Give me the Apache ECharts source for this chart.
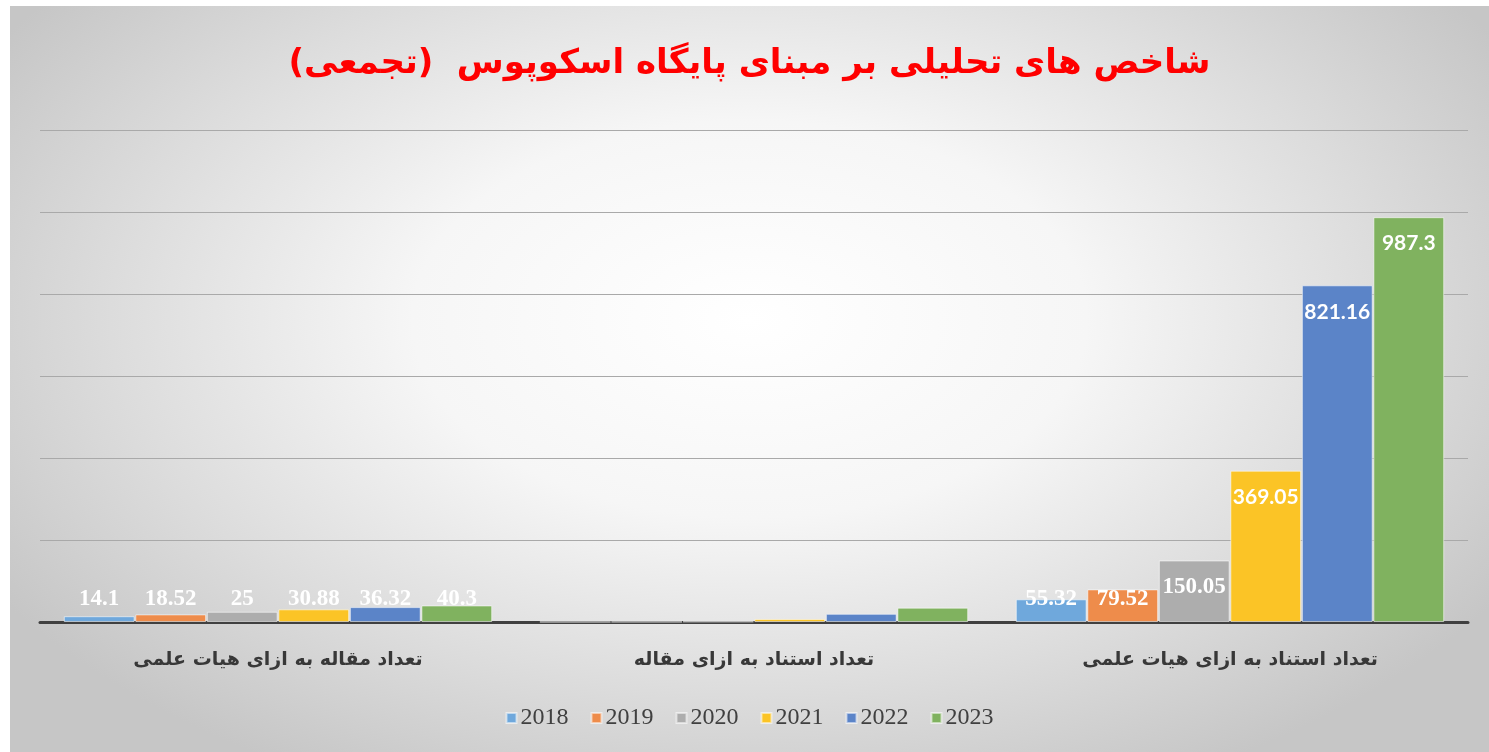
<!DOCTYPE html>
<html>
<head>
<meta charset="utf-8">
<script src="https://cdn.jsdelivr.net/npm/echarts@6/dist/echarts.min.js"></script>
<style>
html, body { margin: 0; padding: 0; background: #fff; }
#main {
    position: absolute; left: 10px; top: 6px; width: 1479px; height: 746px;
    background: radial-gradient(ellipse 60% 70% at 50% 42%, #ffffff 0%, #f6f6f6 38%, #dcdcdc 72%, #c6c6c6 100%);
}
</style>
</head>
<body>
<div id="main"></div>
<script>
// داده ها
var titleText = 'شاخص های تحلیلی بر مبنای پایگاه اسکوپوس  (تجمعی)\u200F';
var categories = ['تعداد مقاله به ازای هیات علمی', 'تعداد استناد به ازای مقاله', 'تعداد استناد به ازای هیات علمی'];
var years = ['2018', '2019', '2020', '2021', '2022', '2023'];
var v2018 = [14.1, 0.3, 55.32];
var v2019 = [18.52, 0.5, 79.52];
var v2020 = [25, 1.1, 150.05];
var v2021 = [30.88, 7.4, 369.05];
var v2022 = [36.32, 20, 821.16];
var v2023 = [40.3, 35, 987.3];
var values = [v2018, v2019, v2020, v2021, v2022, v2023];
var colors = ['#6fa8dc', '#ee8c4b', '#adadad', '#fbc426', '#5b84c8', '#80b25f'];

var chart = echarts.init(document.getElementById('main'), null, {renderer: 'canvas'});

function makeData(arr, s) {
    var out = [];
    for (var i = 0; i < arr.length; i++) {
        var v = arr[i];
        var lab;
        if (i == 1) {
            // white labels on the white middle area are not visible
            lab = {show: false};
        } else if (v < 120) {
            lab = {position: 'insideBottom', distance: 11, fontFamily: 'Liberation Serif', fontSize: 23};
        } else if (s < 3) {
            lab = {position: 'insideTop', distance: 15, fontFamily: 'Liberation Serif', fontSize: 23};
        } else {
            lab = {position: 'insideTop', distance: 16, fontFamily: 'Lato', fontSize: 21};
        }
        out.push({value: v, label: lab});
    }
    return out;
}

var series = [];
for (var s = 0; s < years.length; s++) {
    series.push({
        name: years[s],
        type: 'bar',
        barGap: '1%',
        barCategoryGap: '10%',
        itemStyle: {color: colors[s], borderColor: 'rgba(255,255,255,0.55)', borderWidth: 1},
        label: {
            show: true,
            color: '#ffffff',
            fontWeight: 'bold'
        },
        data: makeData(values[s], s)
    });
}

chart.setOption({
    animation: false,
    backgroundColor: 'transparent',
    title: {
        text: titleText,
        left: 'center',
        top: 36,
        textStyle: {color: '#ff0000', fontSize: 34, fontWeight: 'bold', fontFamily: 'DejaVu Sans'}
    },
    legend: {
        data: years,
        bottom: 17,
        left: 'center',
        itemWidth: 10,
        itemHeight: 10,
        itemGap: 22,
        icon: 'rect',
        textStyle: {fontFamily: 'Liberation Serif', fontSize: 24, color: '#404040', padding: [0, 0, 0, -1]}
    },
    grid: {left: 30, right: 21, top: 124, bottom: 130},
    xAxis: {
        type: 'category',
        data: categories,
        axisTick: {show: false},
        axisLine: {lineStyle: {color: '#404040', width: 3}},
        axisLabel: {
            margin: 29,
            color: '#383838',
            fontSize: 19,
            fontWeight: 'bold',
            fontFamily: 'DejaVu Sans'
        }
    },
    yAxis: {
        type: 'value',
        min: 0,
        max: 1200,
        interval: 200,
        axisLabel: {show: false},
        axisLine: {show: false},
        axisTick: {show: false},
        splitLine: {lineStyle: {color: '#a9a9a9', width: 1}}
    },
    series: series
});
</script>
</body>
</html>
